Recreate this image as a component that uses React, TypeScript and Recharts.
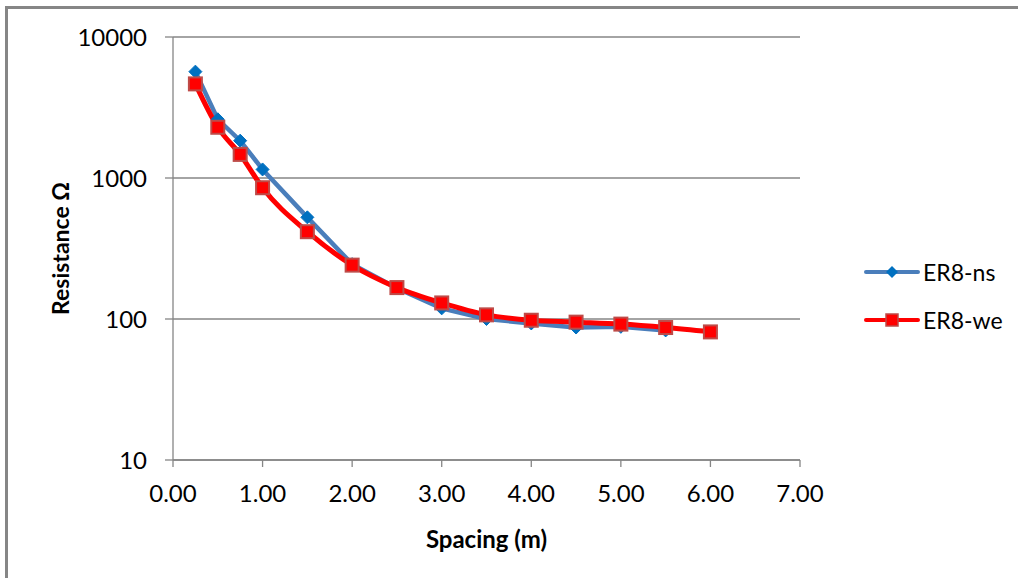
import React from 'react';
import { LineChart, Line, XAxis, YAxis, CartesianGrid } from 'recharts';

const spacing = [0.25, 0.5, 0.75, 1.0, 1.5, 2.0, 2.5, 3.0, 3.5, 4.0, 4.5, 5.0, 5.5, 6.0];
const er8ns = [5680, 2610, 1840, 1150, 526, 245, 165, 119, 100, 93, 87, 88, 83, null];
const er8we = [4650, 2290, 1470, 853, 416, 241, 167, 130, 107, 98, 95, 92, 87, 81];
const xTicks = [0, 1, 2, 3, 4, 5, 6, 7];
const yTicks = [10, 100, 1000, 10000];
const seriesNames = ['ER8-ns', 'ER8-we'];

const data = spacing.map((s, i) => ({ x: s, ns: er8ns[i], we: er8we[i] }));

const FONT = 'Lato, "Open Sans", sans-serif';
const GRAY = '#868686';
const BLUE_LINE = '#4A7EBB';
const BLUE_DOT = '#0070C0';
const RED = '#FF0000';
const RED_EDGE = '#BE4B48';

const Diamond = (props: any) => {
  const { cx, cy } = props;
  if (cx == null || cy == null || isNaN(cx) || isNaN(cy)) return null;
  const r = 6.5;
  return <path d={`M${cx},${cy - r}L${cx + r},${cy}L${cx},${cy + r}L${cx - r},${cy}Z`} fill={BLUE_DOT} stroke={BLUE_DOT} strokeWidth={1} />;
};

const Square = (props: any) => {
  const { cx, cy } = props;
  if (cx == null || cy == null || isNaN(cx) || isNaN(cy)) return null;
  const h = 6.5;
  return <rect x={cx - h} y={cy - h} width={2 * h} height={2 * h} fill={RED} stroke={RED_EDGE} strokeWidth={2} />;
};

const LegendBox = () => (
  <div style={{ position: 'absolute', left: 863, top: 248, fontFamily: FONT, fontSize: 23, color: '#000' }}>
    <div style={{ display: 'flex', alignItems: 'center', height: 48 }}>
      <svg width={58} height={20} style={{ marginRight: 2 }}>
        <line x1={3} y1={10} x2={55} y2={10} stroke={BLUE_LINE} strokeWidth={4} strokeLinecap="round" />
        <path d="M29,4L35,10L29,16L23,10Z" fill={BLUE_DOT} />
      </svg>
      <span>{seriesNames[0]}</span>
    </div>
    <div style={{ display: 'flex', alignItems: 'center', height: 48 }}>
      <svg width={58} height={20} style={{ marginRight: 2 }}>
        <line x1={3} y1={10} x2={55} y2={10} stroke={RED} strokeWidth={4} strokeLinecap="round" />
        <rect x={23} y={4} width={12} height={12} fill={RED} stroke={RED_EDGE} strokeWidth={1.5} />
      </svg>
      <span>{seriesNames[1]}</span>
    </div>
  </div>
);

export default function App() {
  return (
    <div style={{ position: 'absolute', left: 0, top: 0, width: 1018, height: 578, background: '#fff', overflow: 'hidden' }}>
      <div style={{ position: 'absolute', left: 5, top: 6, width: 1013, height: 572, borderLeft: `3px solid ${GRAY}`, borderTop: `3px solid ${GRAY}` }} />
      <div style={{ position: 'absolute', left: 0, top: 0 }}>
        <LineChart width={1018} height={578} data={data} margin={{ top: 37, right: 218, bottom: 0, left: 73 }}>
          <CartesianGrid vertical={false} stroke={GRAY} strokeWidth={1.3} />
          <XAxis
            dataKey="x"
            type="number"
            domain={[0, 7]}
            ticks={xTicks}
            interval={0}
            tickFormatter={(v: number) => v.toFixed(2)}
            stroke={GRAY}
            strokeWidth={1.3}
            tickSize={7}
            tickMargin={18}
            tick={{ fill: '#000', fontSize: 24, fontFamily: FONT }}
            height={118}
            label={{ value: 'Spacing (m)', position: 'insideBottom', offset: 30, style: { fontFamily: FONT, fontSize: 24, fontWeight: 'bold', fill: '#000' } }}
          />
          <YAxis
            type="number"
            scale="log"
            domain={[10, 10000]}
            ticks={yTicks}
            interval={0}
            allowDataOverflow
            stroke={GRAY}
            strokeWidth={1.3}
            tickSize={8}
            tickMargin={18}
            width={100}
            tick={{ fill: '#000', fontSize: 24, fontFamily: FONT }}
            label={{ value: 'Resistance Ω', angle: -90, position: 'insideLeft', offset: -12, style: { textAnchor: 'middle', fontFamily: FONT, fontSize: 23, fontWeight: 'bold', fill: '#000' } }}
          />
          <Line type="linear" dataKey="ns" name={seriesNames[0]} stroke={BLUE_LINE} strokeWidth={4.5} dot={<Diamond />} isAnimationActive={false} connectNulls={false} />
          <Line type="monotone" dataKey="we" name={seriesNames[1]} stroke={RED} strokeWidth={5} dot={<Square />} isAnimationActive={false} />
        </LineChart>
      </div>
      <LegendBox />
    </div>
  );
}
